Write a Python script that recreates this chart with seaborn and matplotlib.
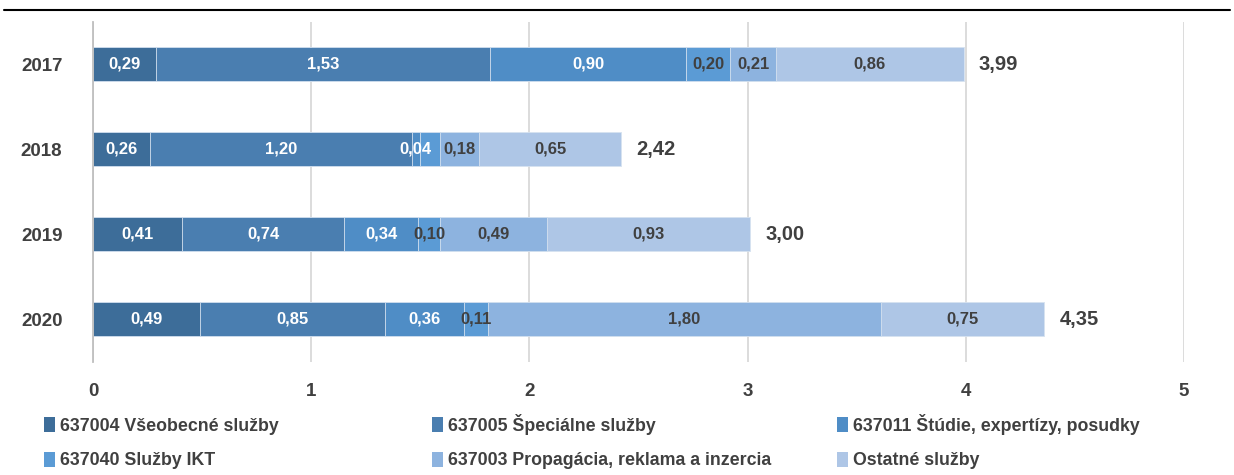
import pandas as pd
import matplotlib.pyplot as plt
import seaborn as sns
from matplotlib.patches import Patch
from matplotlib.lines import Line2D

# údaje (v mil. eur)
roky = ["2017", "2018", "2019", "2020"]
sluzby = ["637004 Všeobecné služby", "637005 Špeciálne služby",
          "637011 Štúdie, expertízy, posudky", "637040 Služby IKT",
          "637003 Propagácia, reklama a inzercia", "Ostatné služby"]
v637004 = [0.29, 0.26, 0.41, 0.49]
v637005 = [1.53, 1.20, 0.74, 0.85]
v637011 = [0.90, 0.04, 0.34, 0.36]
v637040 = [0.20, 0.09, 0.10, 0.11]
v637003 = [0.21, 0.18, 0.49, 1.80]
ostatne = [0.86, 0.65, 0.93, 0.75]
spolu = [3.99, 2.42, 3.00, 4.35]
# hodnoty bez popisu v grafe (rok, séria)
bez_popisu = [(1, 3)]

farby = ["#3D6D99", "#4A7EB0", "#4F8DC6", "#5B9BD5", "#8DB3DF", "#AEC6E6"]
farby_textu = ["white", "white", "white", "#404040", "#404040", "#404040"]

serie = [v637004, v637005, v637011, v637040, v637003, ostatne]
df = pd.DataFrame({"Rok": roky})
for nazov, hodnoty in zip(sluzby, serie):
    df[nazov] = hodnoty
kum = df[sluzby].cumsum(axis=1)

sns.set_style("white")
plt.rcParams["font.family"] = ["Liberation Sans", "DejaVu Sans"]
plt.rcParams["font.weight"] = "bold"

fig = plt.figure(figsize=(12.34, 4.75), dpi=100)
ax = fig.add_axes([0.0754, 0.238, 0.884, 0.716])

# stĺpce kreslené od najdlhšieho kumulatívneho súčtu
for i in range(len(sluzby) - 1, -1, -1):
    sns.barplot(data=kum.assign(Rok=df["Rok"]), x=sluzby[i], y="Rok", orient="h",
                color=farby[i], width=0.4, ax=ax, saturation=1,
                edgecolor="#D6E2F0", linewidth=0.6)

# popisy hodnôt
for r in range(len(roky)):
    zac = 0
    for i, nazov in enumerate(sluzby):
        hod = df[nazov][r]
        if (r, i) not in bez_popisu:
            ax.text(zac + hod / 2, r, f"{hod:.2f}".replace(".", ","),
                    ha="center", va="center", color=farby_textu[i],
                    fontsize=12, fontweight="bold")
        zac += hod
    ax.text(kum.iloc[r, -1] + 0.07, r, f"{spolu[r]:.2f}".replace(".", ","),
            ha="left", va="center", color="#404040", fontsize=14.5, fontweight="bold")

ax.set_xlim(0, 5)
ax.set_ylim(3.5, -0.5)
ax.set_xticks([0, 1, 2, 3, 4, 5])
ax.set_xlabel("")
ax.set_ylabel("")
ax.grid(axis="x", color="#D9D9D9", linewidth=1.3)
ax.set_axisbelow(True)
for s in ["top", "right", "bottom"]:
    ax.spines[s].set_visible(False)
ax.spines["left"].set_color("#BFBFBF")
ax.spines["left"].set_linewidth(1.3)
ax.tick_params(axis="y", length=0, pad=22, labelsize=13.5, labelcolor="#404040")
ax.tick_params(axis="x", length=0, pad=15, labelsize=13.5, labelcolor="#404040")
for t in ax.get_xticklabels() + ax.get_yticklabels():
    t.set_fontweight("bold")

# legenda v troch stĺpcoch
stlpce_x = [28 / 1234, 416 / 1234, 821 / 1234]
for k in range(3):
    idx = [k, k + 3]
    handles = [Patch(facecolor=farby[i], edgecolor="none") for i in idx]
    leg = fig.legend(handles, [sluzby[i] for i in idx], loc="lower left",
                     bbox_to_anchor=(stlpce_x[k], -0.022), frameon=False,
                     handlelength=0.6, handleheight=0.95,
                     handletextpad=0.3, labelspacing=0.95,
                     prop={"weight": "bold", "size": 12.8})
    for t in leg.get_texts():
        t.set_color("#404040")

# čiara pod nadpisom
fig.add_artist(Line2D([0.003, 0.997], [1 - 10 / 475, 1 - 10 / 475],
                      color="black", linewidth=1.5, transform=fig.transFigure))

plt.savefig("out.png", dpi=100)
